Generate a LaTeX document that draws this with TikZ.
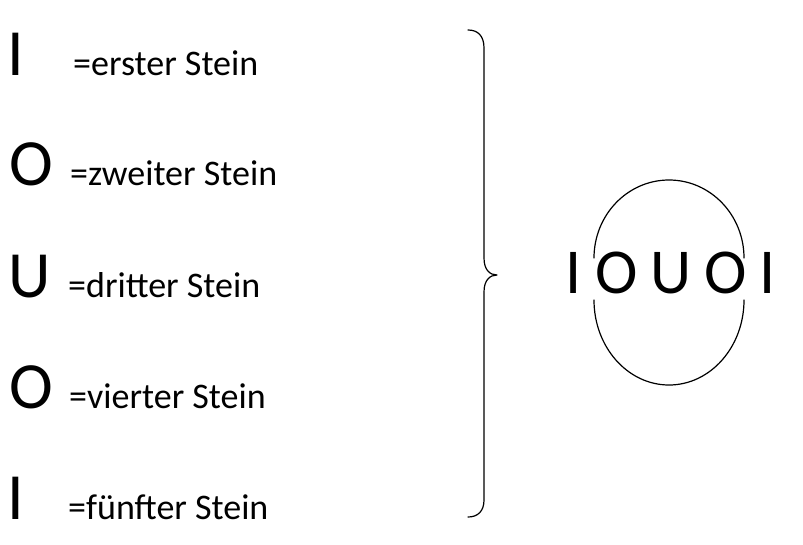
\documentclass[tikz,border=0pt]{standalone}
\usepackage{fontspec}
\setmainfont{Carlito}
\begin{document}
\begin{tikzpicture}[x=1pt,y=-1pt,
  big/.style={anchor=base west,inner sep=0pt,font=\fontsize{66}{70}\selectfont},
  lab/.style={anchor=base west,inner sep=0pt,font=\fontsize{36}{40}\selectfont},
  line/.style={line width=1.2pt,line cap=round,line join=round}]
\useasboundingbox (0,0) rectangle (803,544);
% left column
\node[big] (b1) at (7,75) {I};
\node[big] (b2) at (9,185) {O};
\node[big] (b3) at (8,297) {U};
\node[big] (b4) at (9,408) {O};
\node[big] (b5) at (7,519) {I};
\node[lab] (l1) at (73,75) {=erster Stein};
\node[lab] (l2) at (70,185) {=zweiter Stein};
\node[lab] (l3) at (68,297) {=dritter Stein};
\node[lab] (l4) at (69,408) {=vierter Stein};
\node[lab] (l5) at (68,519) {=fünfter Stein};
% brace
\coordinate (bt) at (468,30);
\coordinate (tip) at (497,275);
\coordinate (bb) at (468,517);
\draw[line] (bt) .. controls (478,30) and (484,36) .. (484,48)
  -- (484,258) .. controls (484,270) and (490,275) .. (tip)
  .. controls (490,275) and (484,280) .. (484,292)
  -- (484,500) .. controls (484,511) and (478,517) .. (bb);
% right: word with broken circle
\node[anchor=base,inner sep=0pt,font=\fontsize{64}{68}\selectfont] (word) at (671,293)
  {I\kern13pt O\kern13pt U\kern13pt O\kern13pt I};
\coordinate (ct) at (669,258);
\coordinate (cb) at (669,300);
\draw[line] (ct) ++(-75,0) arc[start angle=180,end angle=360,x radius=75,y radius=78];
\draw[line] (cb) ++(75,0) arc[start angle=0,end angle=180,x radius=75,y radius=85];
\end{tikzpicture}
\end{document}
